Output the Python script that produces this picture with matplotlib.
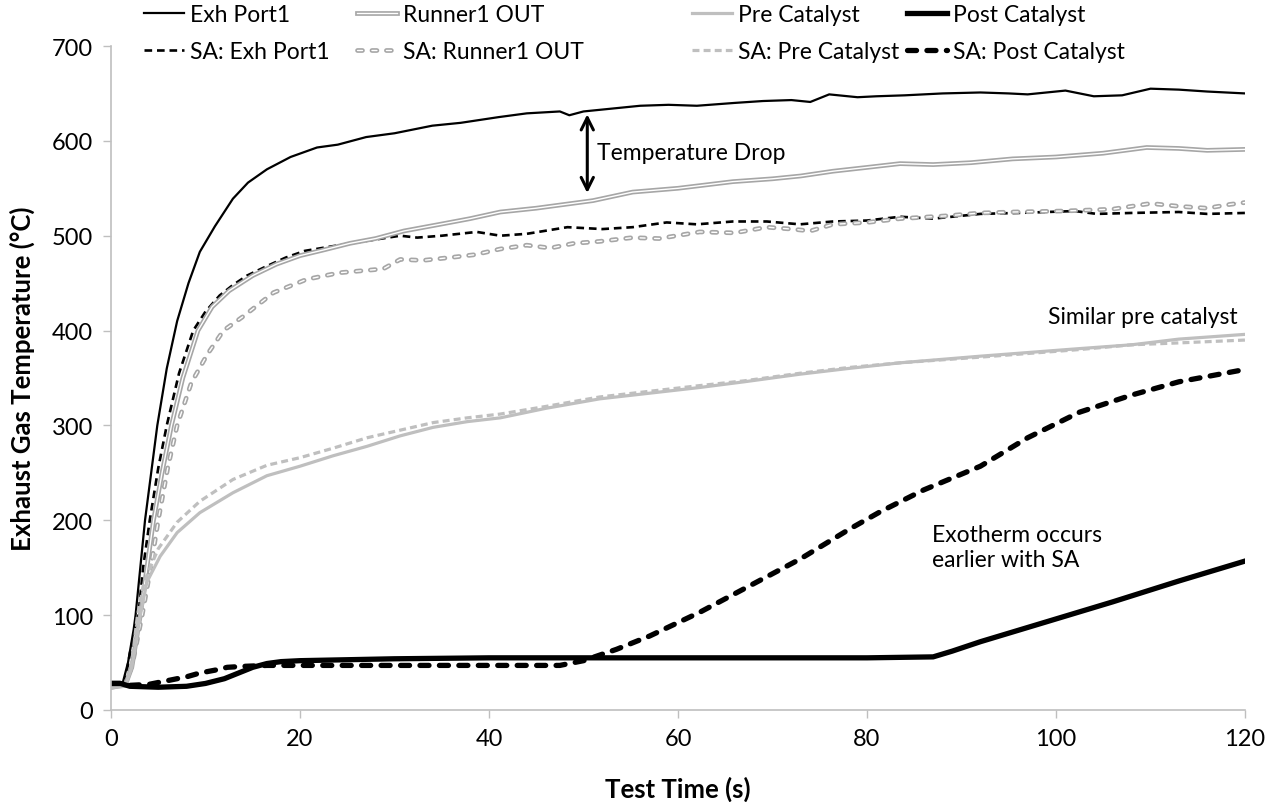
import matplotlib
matplotlib.use("Agg")
import matplotlib.pyplot as plt
import matplotlib.patheffects as pe

# --- data (time in s, temperature in degC) ---
exh_t = [0, 1.2, 1.8, 2.4, 2.6, 3.6, 4.9, 5.9, 7.0, 8.2, 9.4, 11, 12.9, 14.5, 16.5, 19, 21.8, 24, 27, 30,
         34, 37, 41, 44, 47.5, 48.5, 50, 53, 56, 59, 62, 66, 69, 72, 74, 76, 79, 81, 84, 88, 92, 95, 97,
         101, 104, 107, 110, 113, 116, 118, 120]
exh_T = [25, 27, 50, 85, 100, 200, 300, 360, 410, 450, 483, 510, 539, 556, 570, 583, 593, 596, 604, 608,
         616, 619, 625, 629, 631, 627, 631, 634, 637, 638, 637, 640, 642, 643, 641, 649, 646, 647, 648, 650,
         651, 650, 649, 653, 647, 648, 655, 654, 652, 651, 650]

sa_exh_t = [0, 1.5, 2.0, 2.9, 3.4, 4.1, 5.0, 5.9, 7.2, 8.7, 10, 11.5, 12.9, 14.4, 16.5, 18.5, 20.5, 23.5,
            26, 28, 30.6, 32.4, 35, 38.7, 41.2, 44, 48.3, 52, 55.2, 58.8, 62, 65.8, 69.4, 72.9, 76.4, 80,
            83.5, 87, 92, 96, 99, 102, 104.3, 108, 113, 116, 120]
sa_exh_T = [28, 30, 60, 100, 150, 200, 255, 300, 355, 400, 420, 437, 448, 458, 468, 477, 484, 489,
            493, 496, 500, 498, 500, 504, 500, 502, 509, 507, 509, 514, 512, 515, 515, 512, 515, 516,
            520, 518, 523, 524, 525, 526, 523, 524, 525, 523, 524]

run_t = [0, 1.5, 2.2, 3.1, 3.8, 4.5, 5.4, 6.4, 7.6, 9.2, 10.7, 12.5, 15, 17.5, 20, 22.5, 25.3, 28, 31,
         34.8, 38, 41.2, 45, 48, 51, 55.2, 60, 65.8, 70, 73, 76.4, 80, 83.5, 87, 91, 95.4, 100, 105,
         109.6, 113, 116, 120]
run_T = [24, 26, 45, 100, 150, 200, 250, 300, 350, 400, 425, 442, 458, 470, 479, 485, 492, 497, 505,
         512, 518, 525, 529, 533, 537, 546, 550, 557, 560, 563, 568, 572, 576, 575, 577, 581, 583, 587,
         593, 592, 590, 591]

sa_run_t = [0, 1.5, 2.3, 3.3, 4.2, 5.0, 6.0, 7.0, 8.5, 10.2, 11.9, 14, 17.2, 20.7, 24.2, 28.8, 30.6, 33,
            35.9, 38.5, 41.2, 44, 46.5, 49, 51.7, 55.2, 58, 62.3, 66, 69.4, 72, 74, 76.4, 80, 83.5, 88.5,
            92, 95.4, 100.7, 106, 110, 113, 116, 118.4, 120]
sa_run_T = [24, 26, 50, 100, 150, 200, 255, 300, 345, 375, 400, 415, 440, 454, 461, 465, 475, 474,
            477, 480, 486, 490, 487, 492, 494, 498, 497, 504, 503, 509, 507, 505, 512, 514, 518, 521,
            524, 525, 526, 528, 534, 531, 529, 533, 535]

pre_t = [0, 1.5, 2.2, 2.7, 3.1, 3.8, 5.2, 7, 9.4, 12.9, 16.5, 20, 23.5, 27.1, 30.6, 34.1, 37.7, 41.2,
         46, 51.7, 57, 62.3, 67, 72.9, 78, 83.5, 92, 102.5, 108, 113, 120]
pre_T = [24, 25, 45, 75, 100, 135, 162, 187, 208, 229, 247, 257, 268, 278, 289, 298, 304, 308,
         318, 328, 334, 340, 346, 354, 360, 366, 373, 381, 385, 391, 396]

sa_pre_t = [0, 1.5, 2.2, 2.8, 3.5, 5, 7, 9.4, 12.9, 16.5, 20, 23.5, 27.1, 30.6, 34.1, 37.7, 41.2, 46,
            51.7, 57, 62.3, 67, 72.9, 78, 83.5, 92, 102.5, 108, 113, 120]
sa_pre_T = [24, 25, 50, 100, 135, 170, 198, 220, 243, 258, 266, 276, 287, 295, 303, 308, 312, 320,
            330, 336, 342, 347, 355, 361, 366, 372, 380, 385, 387, 390]

post_t = [0, 1.0, 2.0, 5, 8, 10, 12, 13, 14, 15, 16.5, 18, 20, 25, 30, 40, 50, 60, 70, 80, 87, 89, 92,
          99, 106, 113, 120]
post_T = [28, 28, 25, 24, 25, 28, 33, 37, 41, 45, 49, 51, 52, 53, 54, 55, 55, 55, 55, 55, 56, 62, 72,
          93, 114, 136, 157]

sa_post_t = [0, 1.0, 2.0, 4, 6, 8, 9.4, 11, 12.3, 14, 16.5, 20, 30, 40, 47.5, 50, 53.5, 57, 62.3, 67.6,
             72.9, 78.2, 81.4, 86, 92, 97, 102.5, 108, 113, 120]
sa_post_T = [28, 28, 26, 27, 31, 35, 39, 42, 45, 46, 47, 47, 47, 47, 47, 52, 64, 78, 103, 131, 159,
             191, 209, 232, 257, 287, 314, 332, 346, 359]

x_ticks = [0, 20, 40, 60, 80, 100, 120]
y_ticks = [0, 100, 200, 300, 400, 500, 600, 700]


def main():
    plt.rcParams['font.family'] = ['Lato', 'DejaVu Sans']
    plt.rcParams['lines.scale_dashes'] = False

    W, H = 1277, 803
    fig = plt.figure(figsize=(W / 100, H / 100), dpi=100)
    ax = fig.add_axes([111 / W, 1 - 711 / H, (1245 - 111) / W, (711 - 47) / H])

    gray_dark = '#a6a6a6'
    gray_light = '#bfbfbf'
    double = [pe.Stroke(linewidth=3.4, foreground=gray_dark), pe.Normal()]

    h_exh, = ax.plot(exh_t, exh_T, color='black', lw=1.6)
    h_saexh, = ax.plot(sa_exh_t, sa_exh_T, color='black', lw=1.9, dashes=[5.5, 3.5])
    h_run, = ax.plot(run_t, run_T, color='white', lw=1.0, path_effects=double)
    # hollow capsule dashes: white dashed core on a gray dashed stroke
    h_sarun, = ax.plot(sa_run_t, sa_run_T, color='white', lw=1.0, dashes=[3.6, 6.8],
                       dash_capstyle='round', path_effects=double)
    h_pre, = ax.plot(pre_t, pre_T, color=gray_light, lw=2.3)
    h_sapre, = ax.plot(sa_pre_t, sa_pre_T, color=gray_light, lw=2.3, dashes=[5, 3])
    h_post, = ax.plot(post_t, post_T, color='black', lw=3.8)
    h_sapost, = ax.plot(sa_post_t, sa_post_T, color='black', lw=3.8, dashes=[6.5, 7.5],
                        dash_capstyle='round')

    ax.set_xlim(0, 120)
    ax.set_ylim(0, 700)
    ax.set_xticks(x_ticks)
    ax.set_yticks(y_ticks)
    ax.tick_params(axis='both', labelsize=17, length=6, width=1, color='#bfbfbf', pad=7)
    for s in ['top', 'right']:
        ax.spines[s].set_visible(False)
    for s in ['left', 'bottom']:
        ax.spines[s].set_color('#bfbfbf')
        ax.spines[s].set_linewidth(1.2)

    ax.set_xlabel('Test Time (s)', fontsize=18.5, fontweight='bold', labelpad=19)
    ax.set_ylabel('Exhaust Gas Temperature (°C)', fontsize=18.5, fontweight='bold', labelpad=12)

    # annotations
    ax.annotate('', xy=(50.4, 628), xytext=(50.4, 545),
                arrowprops=dict(arrowstyle='<->', color='black', lw=2.2, mutation_scale=22,
                                shrinkA=0, shrinkB=0))
    ax.text(51.4, 588, 'Temperature Drop', fontsize=16.5, va='center', ha='left')
    ax.text(119.2, 415, 'Similar pre catalyst', fontsize=16.5, va='center', ha='right')
    ax.text(86.9, 172, 'Exotherm occurs\nearlier with SA', fontsize=16.5, va='center', ha='left',
            linespacing=1.25)

    # legend: four columns placed like the spreadsheet legend
    columns = [
        (144, [h_exh, h_saexh], ['Exh Port1', 'SA: Exh Port1']),
        (357, [h_run, h_sarun], ['Runner1 OUT', 'SA: Runner1 OUT']),
        (692, [h_pre, h_sapre], ['Pre Catalyst', 'SA: Pre Catalyst']),
        (907, [h_post, h_sapost], ['Post Catalyst', 'SA: Post Catalyst']),
    ]
    for x0, hs, ls in columns:
        fig.legend(hs, ls, loc='upper left', bbox_to_anchor=(x0 / W, 1 - 5 / H),
                   frameon=False, fontsize=16.5, handlelength=1.75, handletextpad=0.25,
                   labelspacing=0.7, borderpad=0, borderaxespad=0)

    fig.savefig('out.png', dpi=100)


if __name__ == "__main__":
    main()
